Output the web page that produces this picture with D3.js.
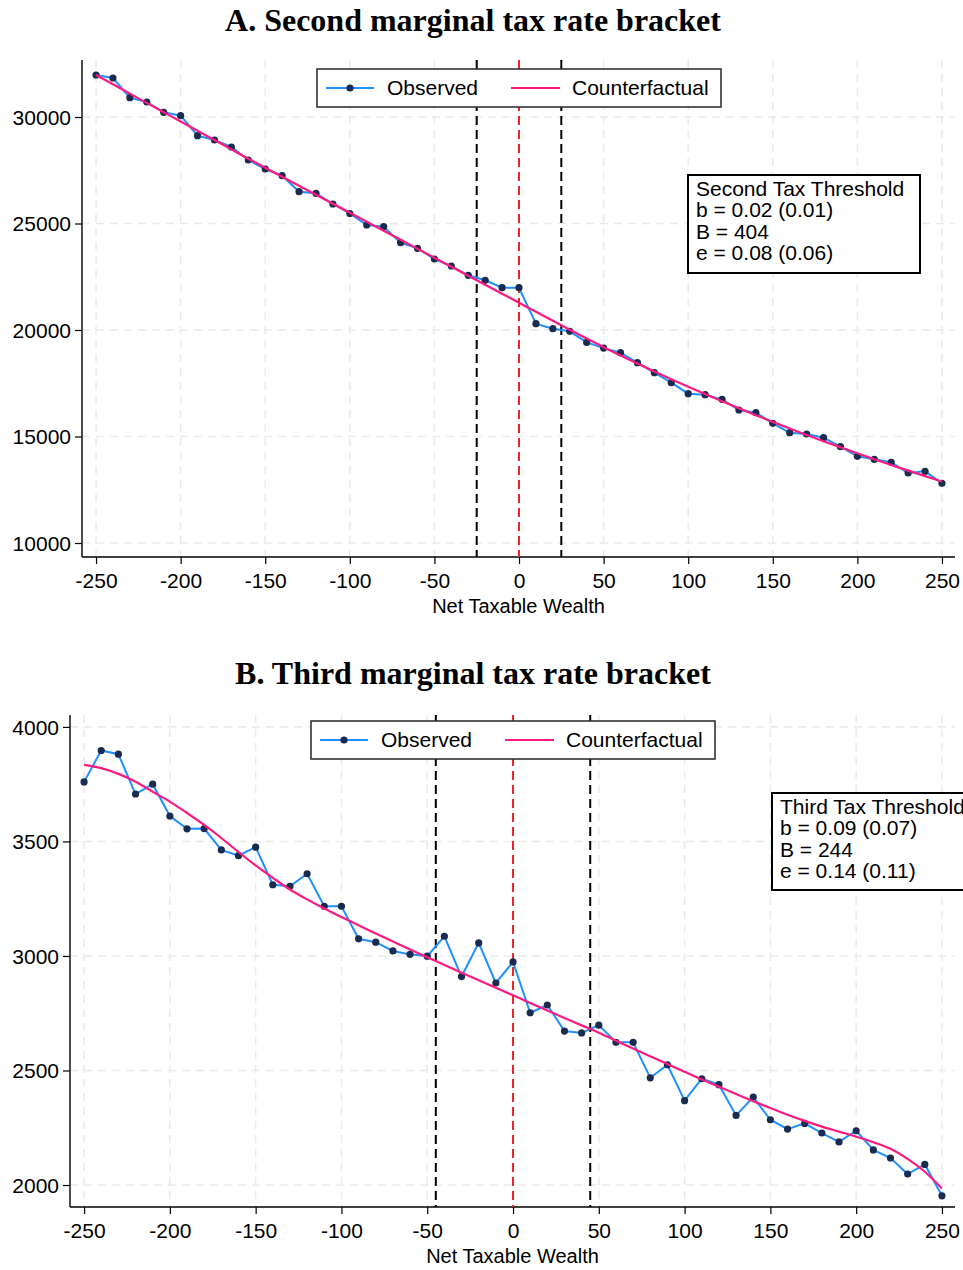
<!DOCTYPE html>
<html><head><meta charset="utf-8">
<script src="https://cdn.jsdelivr.net/npm/d3@7"></script>
<style>body{margin:0;background:#fff}svg{display:block}</style>
</head><body>
<svg id="c" width="963" height="1270"></svg>
<script>
// ---------- DATA ----------
const xBins = d3.range(-250, 251, 10);
const xTicks = [-250,-200,-150,-100,-50,0,50,100,150,200,250];

const obsA = [31972,31831,30906,30704,30219,30063,29122,28920,28592,27981,27559,27244,26493,26417,25915,25470,
  24930,24850,24099,23836,23333,23005,22568,22333,21986,21986,20296,20061,19939,19418,19150,18934,18465,17995,17526,
  17010,16962,16745,16244,16119,15620,15180,15117,14944,14521,14070,13930,13789,13286,13365,12803];
const cfA = [31972,31535,31099,30662,30225,29789,29352,28916,28479,28042,27620,27197,26775,26352,25930,25507,
  25085,24662,24239,23817,23394,22972,22549,22127,21704,21282,20855,20432,20014,19601,19193,18803,18423,18052,17690,
  17338,16990,16653,16324,16000,15686,15376,15075,14779,14493,14211,13934,13662,13399,13141,12887];
const yTicksA = [10000,15000,20000,25000,30000];
const boundsA = [-25, 25];
const textA = ["Second Tax Threshold","b = 0.02 (0.01)","B = 404","e = 0.08 (0.06)"];

const obsB = [3760,3897,3881,3707,3750,3611,3555,3556,3463,3438,3475,3311,3304,3359,3217,3217,
  3075,3060,3022,3007,2999,3086,2910,3057,2882,2974,2752,2786,2672,2664,2698,2623,2623,2468,2525,
  2368,2464,2438,2304,2384,2285,2244,2269,2227,2188,2237,2153,2118,2048,2090,1953];
const cfB = [3834,3820,3795,3761,3717,3674,3624,3572,3515,3454,3395,3341,3290,3247,3207,3170,
  3134,3098,3063,3028,2994,2961,2927,2894,2861,2828,2795,2762,2729,2697,2665,2630,2596,2562,2528,
  2494,2461,2429,2397,2366,2336,2307,2280,2255,2233,2211,2187,2158,2114,2058,1985];
const yTicksB = [2000,2500,3000,3500,4000];
const boundsB = [-45, 45];
const textB = ["Third Tax Threshold","b = 0.09 (0.07)","B = 244","e = 0.14 (0.11)"];

// ---------- DRAW ----------
const svg = d3.select("#c");
const SANS = "'Liberation Sans', Arial, sans-serif";
const SERIF = "'Liberation Serif', 'Times New Roman', serif";
const BLUE = "#1e90ff", NAVY = "#1a2b50", PINK = "#ff1a80", RED = "#e8252a", GRID = "#ebebeb";
const fmt = d => String(d);

function panel(o) {
  const x = d3.scaleLinear().domain(o.xDom).range([o.left, o.right]);
  const y = d3.scaleLinear().domain(o.yDom).range([o.bottom, o.top]);
  const g = svg.append("g");

  g.append("text").attr("x", o.titleX).attr("y", o.titleY).attr("text-anchor","middle")
    .attr("font-family", SERIF).attr("font-weight","bold").attr("font-size", 32).text(o.title);

  // grid
  g.append("g").selectAll("line").data(xTicks).join("line")
    .attr("x1", d=>x(d)).attr("x2", d=>x(d)).attr("y1", o.top).attr("y2", o.bottom)
    .attr("stroke", GRID).attr("stroke-width", 1.6).attr("stroke-dasharray","8,6");
  g.append("g").selectAll("line").data(o.yTicks).join("line")
    .attr("x1", o.left).attr("x2", o.right).attr("y1", d=>y(d)).attr("y2", d=>y(d))
    .attr("stroke", GRID).attr("stroke-width", 1.6).attr("stroke-dasharray","8,6");

  // axes
  const ax = g.append("g").attr("transform", `translate(0,${o.bottom})`)
    .call(d3.axisBottom(x).tickValues(xTicks).tickSize(7).tickPadding(4).tickFormat(fmt));
  const ay = g.append("g").attr("transform", `translate(${o.left},0)`)
    .call(d3.axisLeft(y).tickValues(o.yTicks).tickSize(7).tickPadding(4).tickFormat(fmt));
  [ax, ay].forEach(a => {
    a.selectAll("text").attr("font-family", SANS).attr("font-size", 21).attr("fill","#000");
    a.selectAll("line").attr("stroke","#000").attr("stroke-width",1.2);
    a.select(".domain").attr("stroke","#000").attr("stroke-width",1.4);
  });
  ax.select(".domain").attr("d", `M${o.left},0H${o.right}`);
  ay.select(".domain").attr("d", `M0,${o.top}V${o.bottom}`);
  ax.selectAll("text").attr("dy","0.95em");
  ay.selectAll("text").attr("dy","0.35em");

  g.append("text").attr("x", (o.left+o.right)/2).attr("y", o.bottom + 56).attr("text-anchor","middle")
    .attr("font-family", SANS).attr("font-size", 20).text("Net Taxable Wealth");

  // threshold lines
  g.selectAll("line.b").data(o.bounds).join("line").attr("class","b")
    .attr("x1", d=>x(d)).attr("x2", d=>x(d)).attr("y1", o.top).attr("y2", o.bottom)
    .attr("stroke","#000").attr("stroke-width",2).attr("stroke-dasharray","9,5");
  g.append("line").attr("x1", x(0)).attr("x2", x(0)).attr("y1", o.top).attr("y2", o.bottom)
    .attr("stroke", RED).attr("stroke-width",2).attr("stroke-dasharray","9,5");

  // observed
  const line = d3.line().x((d,i)=>x(xBins[i])).y(d=>y(d));
  g.append("path").datum(o.obs).attr("d", line).attr("fill","none").attr("stroke", BLUE).attr("stroke-width",2);
  g.append("g").selectAll("circle").data(o.obs).join("circle")
    .attr("cx",(d,i)=>x(xBins[i])).attr("cy", d=>y(d)).attr("r",3.6).attr("fill", NAVY);
  // counterfactual
  const cline = d3.line().curve(d3.curveMonotoneX).x((d,i)=>x(xBins[i])).y(d=>y(d));
  g.append("path").datum(o.cf).attr("d", cline).attr("fill","none").attr("stroke", PINK).attr("stroke-width",2.2);

  // legend
  const L = o.legend;
  g.append("rect").attr("x", L.x).attr("y", L.y).attr("width", L.w).attr("height", L.h)
    .attr("fill","#fff").attr("stroke","#333").attr("stroke-width",1.6);
  const cy = L.y + L.h/2;
  g.append("line").attr("x1", L.x+9).attr("x2", L.x+57).attr("y1", cy).attr("y2", cy).attr("stroke", BLUE).attr("stroke-width",2);
  g.append("circle").attr("cx", L.x+33).attr("cy", cy).attr("r",3.6).attr("fill", NAVY);
  g.append("text").attr("x", L.x+70).attr("y", cy+7).attr("font-family", SANS).attr("font-size",21).text("Observed");
  g.append("line").attr("x1", L.x+194).attr("x2", L.x+243).attr("y1", cy).attr("y2", cy).attr("stroke", PINK).attr("stroke-width",2);
  g.append("text").attr("x", L.x+255).attr("y", cy+7).attr("font-family", SANS).attr("font-size",21).text("Counterfactual");

  // info box
  const B = o.box;
  g.append("rect").attr("x", B.x).attr("y", B.y).attr("width", B.w).attr("height", B.h)
    .attr("fill","#fff").attr("stroke","#000").attr("stroke-width",2);
  g.append("g").selectAll("text").data(o.boxText).join("text")
    .attr("x", B.x+8).attr("y", (d,i)=>B.y+21+i*21.3)
    .attr("font-family", SANS).attr("font-size",21).text(d=>d);
}

panel({title:"A. Second marginal tax rate bracket", titleX:473, titleY:31,
  left:82, right:955, top:60, bottom:557, xDom:[-258.3,257.7], yDom:[9343,32676],
  yTicks:yTicksA, bounds:boundsA, obs:obsA, cf:cfA,
  legend:{x:317,y:69,w:404,h:38}, box:{x:688,y:175,w:232,h:98}, boxText:textA});

panel({title:"B. Third marginal tax rate bracket", titleX:473, titleY:684,
  left:70, right:955, top:715, bottom:1207, xDom:[-258.2,257.6], yDom:[1904,4052],
  yTicks:yTicksB, bounds:boundsB, obs:obsB, cf:cfB,
  legend:{x:311,y:721,w:404,h:38}, box:{x:772,y:793,w:220,h:97}, boxText:textB});
</script>
</body></html>
